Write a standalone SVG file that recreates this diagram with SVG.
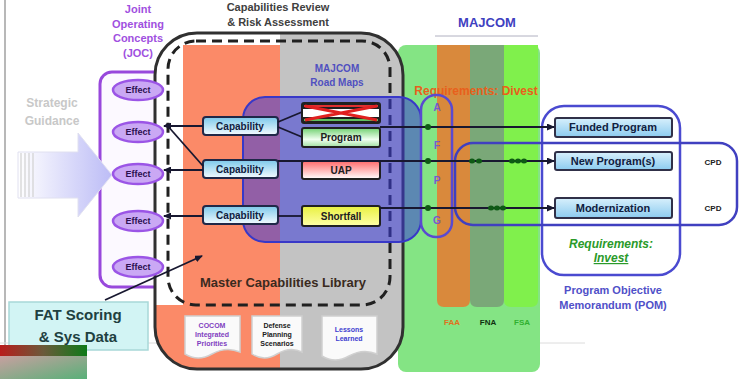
<svg xmlns="http://www.w3.org/2000/svg" width="741" height="379" viewBox="0 0 741 379">
<defs>
<style>
text{font-family:"Liberation Sans",Arial,sans-serif;font-weight:bold}
.eff ellipse{fill:#caa8f4;stroke:#9b55e6;stroke-width:2.5}
.eff text{font-size:9px;fill:#2c1050;text-anchor:middle}
.cap rect{fill:url(#gCap);stroke:#202848;stroke-width:2}
.cap text{font-size:10px;fill:#102040;text-anchor:middle}
.rm rect{stroke:#202020;stroke-width:2}
.rm text{font-size:10px;fill:#202020;text-anchor:middle}
.out rect{fill:url(#gOut);stroke:#303048;stroke-width:2}
.out text{font-size:11px;fill:#102040;text-anchor:middle}
.ln{stroke:#181830;stroke-width:1.8;fill:none}
.doc path{fill:#fafafa;stroke:#d0d0d0;stroke-width:1.5}
.doc text{font-size:7px;text-anchor:middle}
.dot{fill:#0e5a14}
.afpg{font-size:10px;fill:#7858d0;text-anchor:middle}
</style>
<linearGradient id="gCap" x1="0" y1="0" x2="0" y2="1"><stop offset="0" stop-color="#7cc8ea"/><stop offset="1" stop-color="#f4fbff"/></linearGradient>
<linearGradient id="gOut" x1="0" y1="0" x2="0" y2="1"><stop offset="0" stop-color="#d8f0fc"/><stop offset="1" stop-color="#8ccbef"/></linearGradient>
<linearGradient id="gProg" x1="0" y1="0" x2="0" y2="1"><stop offset="0" stop-color="#70d070"/><stop offset="0.6" stop-color="#f0fff0"/><stop offset="1" stop-color="#a0e0a0"/></linearGradient>
<linearGradient id="gUap" x1="0" y1="0" x2="0" y2="1"><stop offset="0" stop-color="#ff6a6a"/><stop offset="1" stop-color="#ffffff"/></linearGradient>
<linearGradient id="gShort" x1="0" y1="0" x2="0" y2="1"><stop offset="0" stop-color="#e8f040"/><stop offset="1" stop-color="#ffffa8"/></linearGradient>
<linearGradient id="gArr" x1="0" y1="0" x2="1" y2="0"><stop offset="0" stop-color="#ffffff"/><stop offset="1" stop-color="#bcbcf6"/></linearGradient>
<linearGradient id="gBand" x1="0" y1="0" x2="1" y2="0"><stop offset="0" stop-color="#b81c1c"/><stop offset="0.5" stop-color="#6a5a3a"/><stop offset="1" stop-color="#0e7a18"/></linearGradient>
<linearGradient id="gLow" x1="0" y1="0" x2="1" y2="1"><stop offset="0" stop-color="#c8a0a0"/><stop offset="1" stop-color="#58b078"/></linearGradient>
<clipPath id="cpBox"><rect x="155" y="33" width="248" height="336" rx="42"/></clipPath>
<marker id="ah" markerWidth="8" markerHeight="7" refX="7" refY="3.5" orient="auto" markerUnits="userSpaceOnUse"><path d="M0,0 L8,3.5 L0,7 z" fill="#181830"/></marker>
</defs>
<rect width="741" height="379" fill="#ffffff"/>
<line x1="5" y1="0" x2="5" y2="345" stroke="#b8b8b8" stroke-width="2"/>
<line x1="0" y1="343" x2="585" y2="343" stroke="#dcdcdc" stroke-width="1"/>

<g id="majcom">
<rect x="398" y="45" width="142" height="327" rx="8" fill="#84e484"/>
<path d="M437,45 H470 V300 Q470,307 463,307 H444 Q437,307 437,300 Z" fill="#d9893c"/>
<path d="M470,45 H504 V300 Q504,307 497,307 H477 Q470,307 470,300 Z" fill="#7aa878"/>
<path d="M504,45 H538 V300 Q538,307 531,307 H511 Q504,307 504,300 Z" fill="#80f04c"/>
<text x="487" y="27" font-size="13" fill="#4040c0" text-anchor="middle">MAJCOM</text>
<line x1="435" y1="36" x2="538" y2="36" stroke="#b0b0c0" stroke-width="1"/>
<text x="452" y="325" font-size="8" fill="#e07020" text-anchor="middle">FAA</text>
<text x="488" y="325" font-size="8" fill="#103010" text-anchor="middle">FNA</text>
<text x="522" y="325" font-size="8" fill="#30b030" text-anchor="middle">FSA</text>
</g>

<g id="joc">
<text x="138" y="13" font-size="11" fill="#a050e0" text-anchor="middle">Joint</text>
<text x="138" y="28" font-size="11" fill="#a050e0" text-anchor="middle">Operating</text>
<text x="138" y="42" font-size="11" fill="#a050e0" text-anchor="middle">Concepts</text>
<text x="138" y="57" font-size="11" fill="#a050e0" text-anchor="middle">(JOC)</text>
<rect x="100" y="72" width="77" height="215" rx="12" fill="#fcf9ff" stroke="#9848dc" stroke-width="3"/>
</g>

<g id="strategic">
<text x="52" y="107" font-size="12" fill="#c8c8c8" text-anchor="middle">Strategic</text>
<text x="52" y="125" font-size="12" fill="#c8c8c8" text-anchor="middle">Guidance</text>
<polygon points="18,152 78,152 78,133 112,175 78,217 78,198 18,198" fill="url(#gArr)" stroke="#e0e0f0" stroke-width="1"/>
<g stroke="#d0d0d0" stroke-width="1.2"><line x1="21" y1="153" x2="21" y2="197"/><line x1="25" y1="153" x2="25" y2="197"/><line x1="29" y1="153" x2="29" y2="197"/><line x1="33" y1="153" x2="33" y2="197"/></g>
</g>

<g id="capreview">
<g clip-path="url(#cpBox)">
<rect x="155" y="33" width="248" height="336" fill="#ffffff"/>
<path d="M183,45 H280 V369 H155 V305 H183 Z" fill="#fb8a68"/>
<rect x="280" y="33" width="123" height="336" fill="#c3c3c3"/>
</g>
<rect x="155" y="33" width="248" height="336" rx="42" fill="none" stroke="#303030" stroke-width="3"/>
<text x="278" y="11" font-size="11" fill="#404040" text-anchor="middle">Capabilities Review</text>
<text x="278" y="26" font-size="11" fill="#404040" text-anchor="middle">&amp; Risk Assessment</text>
</g>

<g id="mcl">
<rect x="168" y="41" width="222" height="264" rx="28" fill="none" stroke="#202020" stroke-width="3" stroke-dasharray="10 6"/>
<text x="283" y="287" font-size="13" fill="#3a2a20" text-anchor="middle">Master Capabilities Library</text>
<text x="337" y="72" font-size="10" fill="#5050c0" text-anchor="middle">MAJCOM</text>
<text x="337" y="86" font-size="10" fill="#5050c0" text-anchor="middle">Road Maps</text>
</g>

<g id="docs" class="doc">
<g id="doc-cocom"><path d="M185,316 H240 V352 Q226,346 212,354 T185,354 Z"/>
<text x="212" y="328" fill="#8040c0">COCOM</text><text x="212" y="337" fill="#8040c0">Integrated</text><text x="212" y="346" fill="#8040c0">Priorities</text></g>
<g id="doc-dps"><path d="M252,316 H302 V352 Q290,346 277,354 T252,354 Z"/>
<text x="277" y="328" fill="#202020">Defense</text><text x="277" y="337" fill="#202020">Planning</text><text x="277" y="346" fill="#202020">Scenarios</text></g>
<g id="doc-ll"><path d="M322,316 H377 V354 Q363,348 349,356 T322,356 Z"/>
<text x="349" y="332" fill="#4040d0">Lessons</text><text x="349" y="341" fill="#4040d0">Learned</text></g>
</g>

<g id="divest">
<rect x="243" y="97" width="178" height="145" rx="22" fill="#3c3cd8" fill-opacity="0.55" stroke="#3838c8" stroke-width="2"/>
<text x="476" y="95" font-size="12" fill="#e8601c" text-anchor="middle">Requirements: Divest</text>
</g>

<g id="effects" class="eff">
<g id="effect1"><ellipse cx="138" cy="90" rx="25" ry="10"/><text x="138" y="93">Effect</text></g>
<g id="effect2"><ellipse cx="138" cy="132" rx="25" ry="10"/><text x="138" y="135">Effect</text></g>
<g id="effect3"><ellipse cx="138" cy="174" rx="25" ry="10"/><text x="138" y="177">Effect</text></g>
<g id="effect4"><ellipse cx="138" cy="221" rx="25" ry="10"/><text x="138" y="224">Effect</text></g>
<g id="effect5"><ellipse cx="138" cy="267" rx="25" ry="10"/><text x="138" y="270">Effect</text></g>
</g>

<g id="fat">
<rect x="9" y="302" width="139" height="48" fill="#d2f4f4" stroke="#a8d8d8" stroke-width="1.5"/>
<text x="78" y="320" font-size="15" fill="#204040" text-anchor="middle">FAT Scoring</text>
<text x="78" y="342" font-size="15" fill="#204040" text-anchor="middle">&amp; Sys Data</text>
</g>

<g id="corner">
<rect x="0" y="345" width="87" height="11" fill="url(#gBand)"/>
<rect x="0" y="356" width="87" height="23" fill="url(#gLow)"/>
</g>

<g id="capabilities" class="cap">
<g id="cap1"><rect x="203" y="117" width="75" height="18" rx="3"/><text x="240" y="130">Capability</text></g>
<g id="cap2"><rect x="203" y="160" width="75" height="18" rx="3"/><text x="240" y="173">Capability</text></g>
<g id="cap3"><rect x="203" y="206" width="75" height="18" rx="3"/><text x="240" y="219">Capability</text></g>
</g>

<g id="roadmaps" class="rm">
<g id="rm-divested"><rect x="302" y="103" width="78" height="20" rx="2" fill="#ffffff"/>
<rect x="303" y="104" width="76" height="4" fill="#e03030"/><rect x="303" y="118" width="76" height="4" fill="#60c060"/>
<path d="M305,106 L377,120 M305,120 L377,106" stroke="#e02020" stroke-width="3" fill="none"/></g>
<g id="rm-program"><rect x="302" y="128" width="78" height="19" rx="2" fill="url(#gProg)"/><text x="341" y="141">Program</text></g>
<g id="rm-uap"><rect x="302" y="161" width="78" height="18" rx="2" fill="url(#gUap)"/><text x="341" y="174">UAP</text></g>
<g id="rm-shortfall"><rect x="302" y="206" width="78" height="20" rx="2" fill="url(#gShort)"/><text x="341" y="220">Shortfall</text></g>
</g>

<g id="afpg">
<rect x="421" y="95" width="31" height="142" rx="15" fill="none" stroke="#5a4ad0" stroke-width="2.5"/>
<text class="afpg" x="437" y="111">A</text>
<text class="afpg" x="437" y="149">F</text>
<text class="afpg" x="437" y="184">P</text>
<text class="afpg" x="437" y="224">G</text>
</g>

<g id="pom">
<rect x="542" y="106" width="138" height="169" rx="22" fill="none" stroke="#4a4ad0" stroke-width="2.5"/>
<text x="611" y="248" font-size="12" font-style="italic" fill="#2a9a2a" text-anchor="middle">Requirements:</text>
<text x="611" y="262" font-size="12" font-style="italic" fill="#2a9a2a" text-anchor="middle" text-decoration="underline">Invest</text>
<text x="613" y="294" font-size="11" fill="#5050c8" text-anchor="middle">Program Objective</text>
<text x="613" y="309" font-size="11" fill="#5050c8" text-anchor="middle">Memorandum (POM)</text>
</g>

<g id="cpd">
<rect x="455" y="143" width="282" height="82" rx="18" fill="none" stroke="#4040c0" stroke-width="2.5"/>
<text x="713" y="165" font-size="8" fill="#202020" text-anchor="middle">CPD</text>
<text x="713" y="211" font-size="8" fill="#202020" text-anchor="middle">CPD</text>
</g>

<g id="outputs" class="out">
<g id="funded"><rect x="555" y="118" width="117" height="19" rx="2"/><text x="613" y="131">Funded Program</text></g>
<g id="newprog"><rect x="555" y="152" width="117" height="18" rx="2"/><text x="613" y="165">New Program(s)</text></g>
<g id="modern"><rect x="555" y="198" width="117" height="20" rx="2"/><text x="613" y="212">Modernization</text></g>
</g>

<g id="connectors">
<line class="ln" x1="203" y1="126" x2="164" y2="126" marker-end="url(#ah)"/>
<line class="ln" x1="203" y1="170" x2="164" y2="170" marker-end="url(#ah)"/>
<line class="ln" x1="203" y1="216" x2="164" y2="216" marker-end="url(#ah)"/>
<line class="ln" x1="166" y1="124" x2="203" y2="166"/>
<line class="ln" x1="278" y1="122" x2="302" y2="112"/>
<line class="ln" x1="278" y1="127" x2="302" y2="137"/>
<line class="ln" x1="278" y1="216" x2="302" y2="216"/>
<line class="ln" x1="380" y1="127" x2="554" y2="127" marker-end="url(#ah)"/>
<line class="ln" x1="278" y1="161" x2="554" y2="161" marker-end="url(#ah)"/>
<line class="ln" x1="380" y1="208" x2="554" y2="208" marker-end="url(#ah)"/>
<line class="ln" x1="105" y1="300" x2="202" y2="256" marker-end="url(#ah)"/>
<circle class="dot" cx="428" cy="127" r="3"/>
<circle class="dot" cx="428" cy="161" r="3"/>
<circle class="dot" cx="428" cy="208" r="3"/>
<ellipse class="dot" cx="472" cy="161" rx="3" ry="2.5"/><ellipse class="dot" cx="479" cy="161" rx="3" ry="2.5"/>
<ellipse class="dot" cx="512" cy="161" rx="3" ry="2.5"/><ellipse class="dot" cx="518" cy="161" rx="3" ry="2.5"/><ellipse class="dot" cx="524" cy="161" rx="3" ry="2.5"/>
<ellipse class="dot" cx="491" cy="208" rx="3" ry="2.5"/><ellipse class="dot" cx="497" cy="208" rx="3" ry="2.5"/><ellipse class="dot" cx="503" cy="208" rx="3" ry="2.5"/>
</g>
</svg>
